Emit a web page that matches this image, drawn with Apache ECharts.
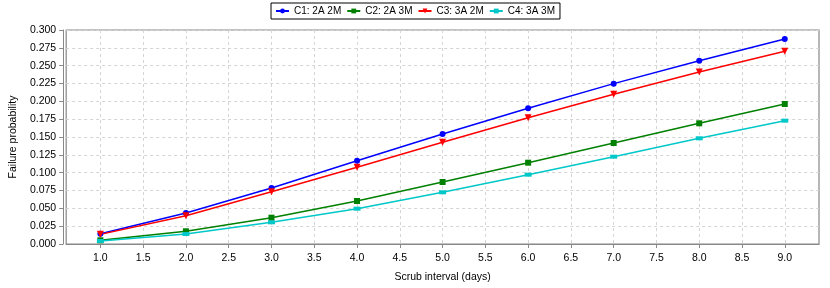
<!DOCTYPE html>
<html><head><meta charset="utf-8">
<script src="https://cdn.jsdelivr.net/npm/echarts@6/dist/echarts.min.js"></script>
<style>html,body{margin:0;padding:0;background:#fff}#c{width:830px;height:288px}</style>
</head><body><div id="c"></div>
<script>
var xValues = [1, 2, 3, 4, 5, 6, 7, 8, 9];
var c1 = [0.0144, 0.0435, 0.0785, 0.1168, 0.1542, 0.1902, 0.2248, 0.2570, 0.2874];
var c2 = [0.0052, 0.0178, 0.0369, 0.0603, 0.0869, 0.1140, 0.1416, 0.1692, 0.1963];
var c3 = [0.0135, 0.0397, 0.0733, 0.1075, 0.1426, 0.1771, 0.2098, 0.2411, 0.2702];
var c4 = [0.0042, 0.0140, 0.0304, 0.0495, 0.0725, 0.0972, 0.1224, 0.1482, 0.1729];
var seriesNames = ['C1: 2A 2M', 'C2: 2A 3M', 'C3: 3A 2M', 'C4: 3A 3M'];
var xTicks = [1.0, 1.5, 2.0, 2.5, 3.0, 3.5, 4.0, 4.5, 5.0, 5.5, 6.0, 6.5, 7.0, 7.5, 8.0, 8.5, 9.0];

function pairs(ys){ return xValues.map(function(x,i){ return [x, ys[i]]; }); }
var FONT = 'Liberation Sans, Arial, sans-serif';
var chart = echarts.init(document.getElementById('c'), null, {renderer:'canvas'});
function mk(name, data, color, symbol, size, rot){
  return {
    name: name, type: 'line', data: pairs(data), color: color,
    symbol: symbol, symbolSize: size, symbolRotate: rot || 0, showSymbol: true,
    lineStyle: {width: 1.5, color: color}, itemStyle: {color: color},
    emphasis: {disabled: true}, animation: false
  };
}
chart.setOption({
  animation: false,
  textStyle: {fontFamily: FONT},
  legend: {
    top: 3, left: 'center', orient: 'horizontal',
    borderColor: '#000', borderWidth: 1, padding: [3, 5, 3, 4], itemGap: 5,
    itemWidth: 13, itemHeight: 6,
    textStyle: {fontFamily: FONT, fontSize: 10, color: '#000'},
    data: seriesNames
  },
  grid: {left: 63, right: 11, top: 30, bottom: 43, show: true, borderColor: '#888', borderWidth: 1.2, containLabel: false},
  xAxis: {
    type: 'value', min: 0.6, max: 9.4, offset: 3,
    name: 'Scrub interval (days)', nameLocation: 'middle', nameGap: 25,
    nameTextStyle: {fontFamily: FONT, fontSize: 10.5, color: '#000'},
    axisLine: {show: true, lineStyle: {color: '#888', width: 1}},
    axisTick: {show: true, customValues: xTicks, length: 4, lineStyle: {color: '#888'}},
    axisLabel: {customValues: xTicks, fontFamily: FONT, fontSize: 10.5, color: '#000', margin: 6,
      formatter: function(v){ return v.toFixed(1); }},
    splitLine: {show: true, lineStyle: {color: '#d4d4d4', type: [3, 3], width: 1}}
  },
  yAxis: {
    type: 'value', min: 0, max: 0.3, interval: 0.025, offset: 3,
    name: 'Failure probability', nameLocation: 'middle', nameGap: 39,
    nameTextStyle: {fontFamily: FONT, fontSize: 10.5, color: '#000'},
    axisLine: {show: true, lineStyle: {color: '#888', width: 1}},
    axisTick: {show: true, length: 4, lineStyle: {color: '#888'}},
    axisLabel: {fontFamily: FONT, fontSize: 10.5, color: '#000', margin: 7,
      formatter: function(v){ return v.toFixed(3); }},
    splitLine: {show: true, lineStyle: {color: '#d4d4d4', type: [3, 3], width: 1}}
  },
  series: [
    mk(seriesNames[0], c1, '#0000ff', 'circle', 6),
    mk(seriesNames[1], c2, '#008000', 'rect', 6),
    mk(seriesNames[2], c3, '#ff0000', 'triangle', 7, 180),
    mk(seriesNames[3], c4, '#00c8c8', 'rect', [7, 4])
  ]
});
</script></body></html>
